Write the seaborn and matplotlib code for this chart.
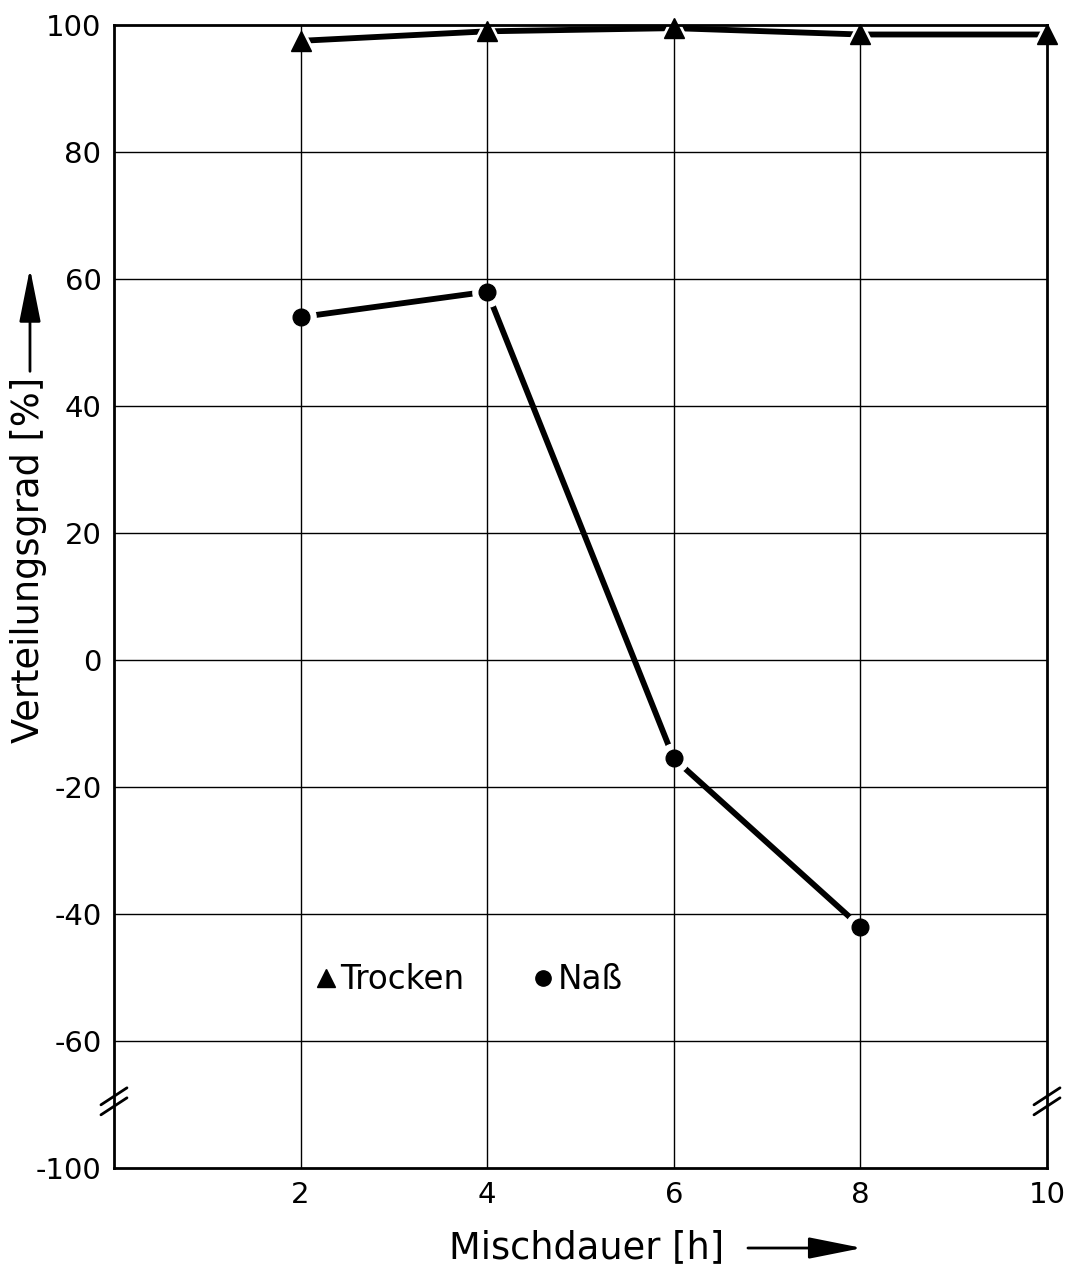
import matplotlib
matplotlib.use("Agg")
import matplotlib.pyplot as plt
import seaborn as sns
import pandas as pd
from matplotlib.lines import Line2D

# ---- data ----
mischdauer = [2, 4, 6, 8, 10]
trocken = [97.5, 99.0, 99.5, 98.5, 98.5]
nass_x = [2, 4, 6, 8]
nass = [54.0, 58.0, -15.5, -42.0]
x_ticks = [2, 4, 6, 8, 10]
x_ticklabels = ["2", "4", "6", "8", "10"]
# broken axis: the position -80 carries the label -100
y_ticks = [-80, -60, -40, -20, 0, 20, 40, 60, 80, 100]
y_ticklabels = ["-100", "-60", "-40", "-20", "0", "20", "40", "60", "80", "100"]

sns.set_theme(style="white")
plt.rcParams['font.family'] = ['DejaVu Sans']
plt.rcParams['text.color'] = 'black'
plt.rcParams['axes.labelcolor'] = 'black'

fig = plt.figure(figsize=(10.69, 12.74), dpi=100)
ax = fig.add_axes([0.1066, 0.0832, 0.9794 - 0.1066, 0.9804 - 0.0832])

df_t = pd.DataFrame({"x": mischdauer, "y": trocken})
df_n = pd.DataFrame({"x": nass_x, "y": nass})

lw = 4.2
for df, mk, ms in [(df_t, "^", 14), (df_n, "o", 12)]:
    sns.lineplot(data=df, x="x", y="y", ax=ax, color="black", lw=lw,
                 solid_capstyle="round", zorder=2)
    ax.plot(df["x"], df["y"], ls="none", marker=mk, ms=ms + 9, color="white",
            mec="white", zorder=2.2, clip_on=False)
    ax.plot(df["x"], df["y"], ls="none", marker=mk, ms=ms, color="black",
            mec="black", zorder=3, clip_on=False)

ax.set_xlim(0, 10)
ax.set_ylim(-80, 100)
ax.set_xticks(x_ticks)
ax.set_xticklabels(x_ticklabels)
ax.set_yticks(y_ticks)
ax.set_yticklabels(y_ticklabels)
ax.tick_params(axis="both", length=0, labelsize=21, colors="black")
ax.tick_params(axis="x", pad=9)
ax.tick_params(axis="y", pad=9)
ax.set_xlabel("")
ax.set_ylabel("")

# grid lines (not in the break region)
for xv in x_ticks[:-1]:
    ax.axvline(xv, color="black", lw=1.0, zorder=2.5)
for yv in y_ticks[1:-1]:
    ax.axhline(yv, color="black", lw=1.0, zorder=2.5)

for s in ax.spines.values():
    s.set_visible(True)
    s.set_color("black")
    s.set_linewidth(2)

# axis break marks
ybreak = (-69.5 + 80) / 180
dx, dy = 13 / 933, 8.5 / 1143
for xa in (0, 1):
    for off in (-5 / 1143, 5 / 1143):
        ax.plot([xa - dx, xa + dx], [ybreak + off - dy, ybreak + off + dy],
                transform=ax.transAxes, color="black", lw=2, clip_on=False,
                zorder=5)

# legend
handles = [Line2D([], [], ls="none", marker="^", ms=13, color="black"),
           Line2D([], [], ls="none", marker="o", ms=11, color="black")]
ax.legend(handles, ["Trocken", "Naß"], loc="center", bbox_to_anchor=(0.378, 0.1645),
          ncol=2, frameon=False, fontsize=23.5, handletextpad=0.0,
          columnspacing=1.95, handlelength=0.9)

# axis labels with arrows
ax.text(0.506, -0.070, "Mischdauer [h]", transform=ax.transAxes, ha="center",
        va="center", fontsize=26.5)
ax.annotate("", xy=(0.802, -0.070), xytext=(0.6795, -0.070),
            xycoords="axes fraction", textcoords="axes fraction",
            arrowprops=dict(arrowstyle="-|>,head_length=1.5,head_width=0.3",
                            mutation_scale=22, lw=2, color="black",
                            shrinkA=0, shrinkB=0))
ax.text(-0.092, 0.532, "Verteilungsgrad [%]", transform=ax.transAxes,
        ha="center", va="center", rotation=90, fontsize=26.5)
ax.annotate("", xy=(-0.090, 0.787), xytext=(-0.090, 0.697),
            xycoords="axes fraction", textcoords="axes fraction",
            arrowprops=dict(arrowstyle="-|>,head_length=1.5,head_width=0.3",
                            mutation_scale=22, lw=2, color="black",
                            shrinkA=0, shrinkB=0))

fig.savefig("out.png", dpi=100, facecolor="white")
